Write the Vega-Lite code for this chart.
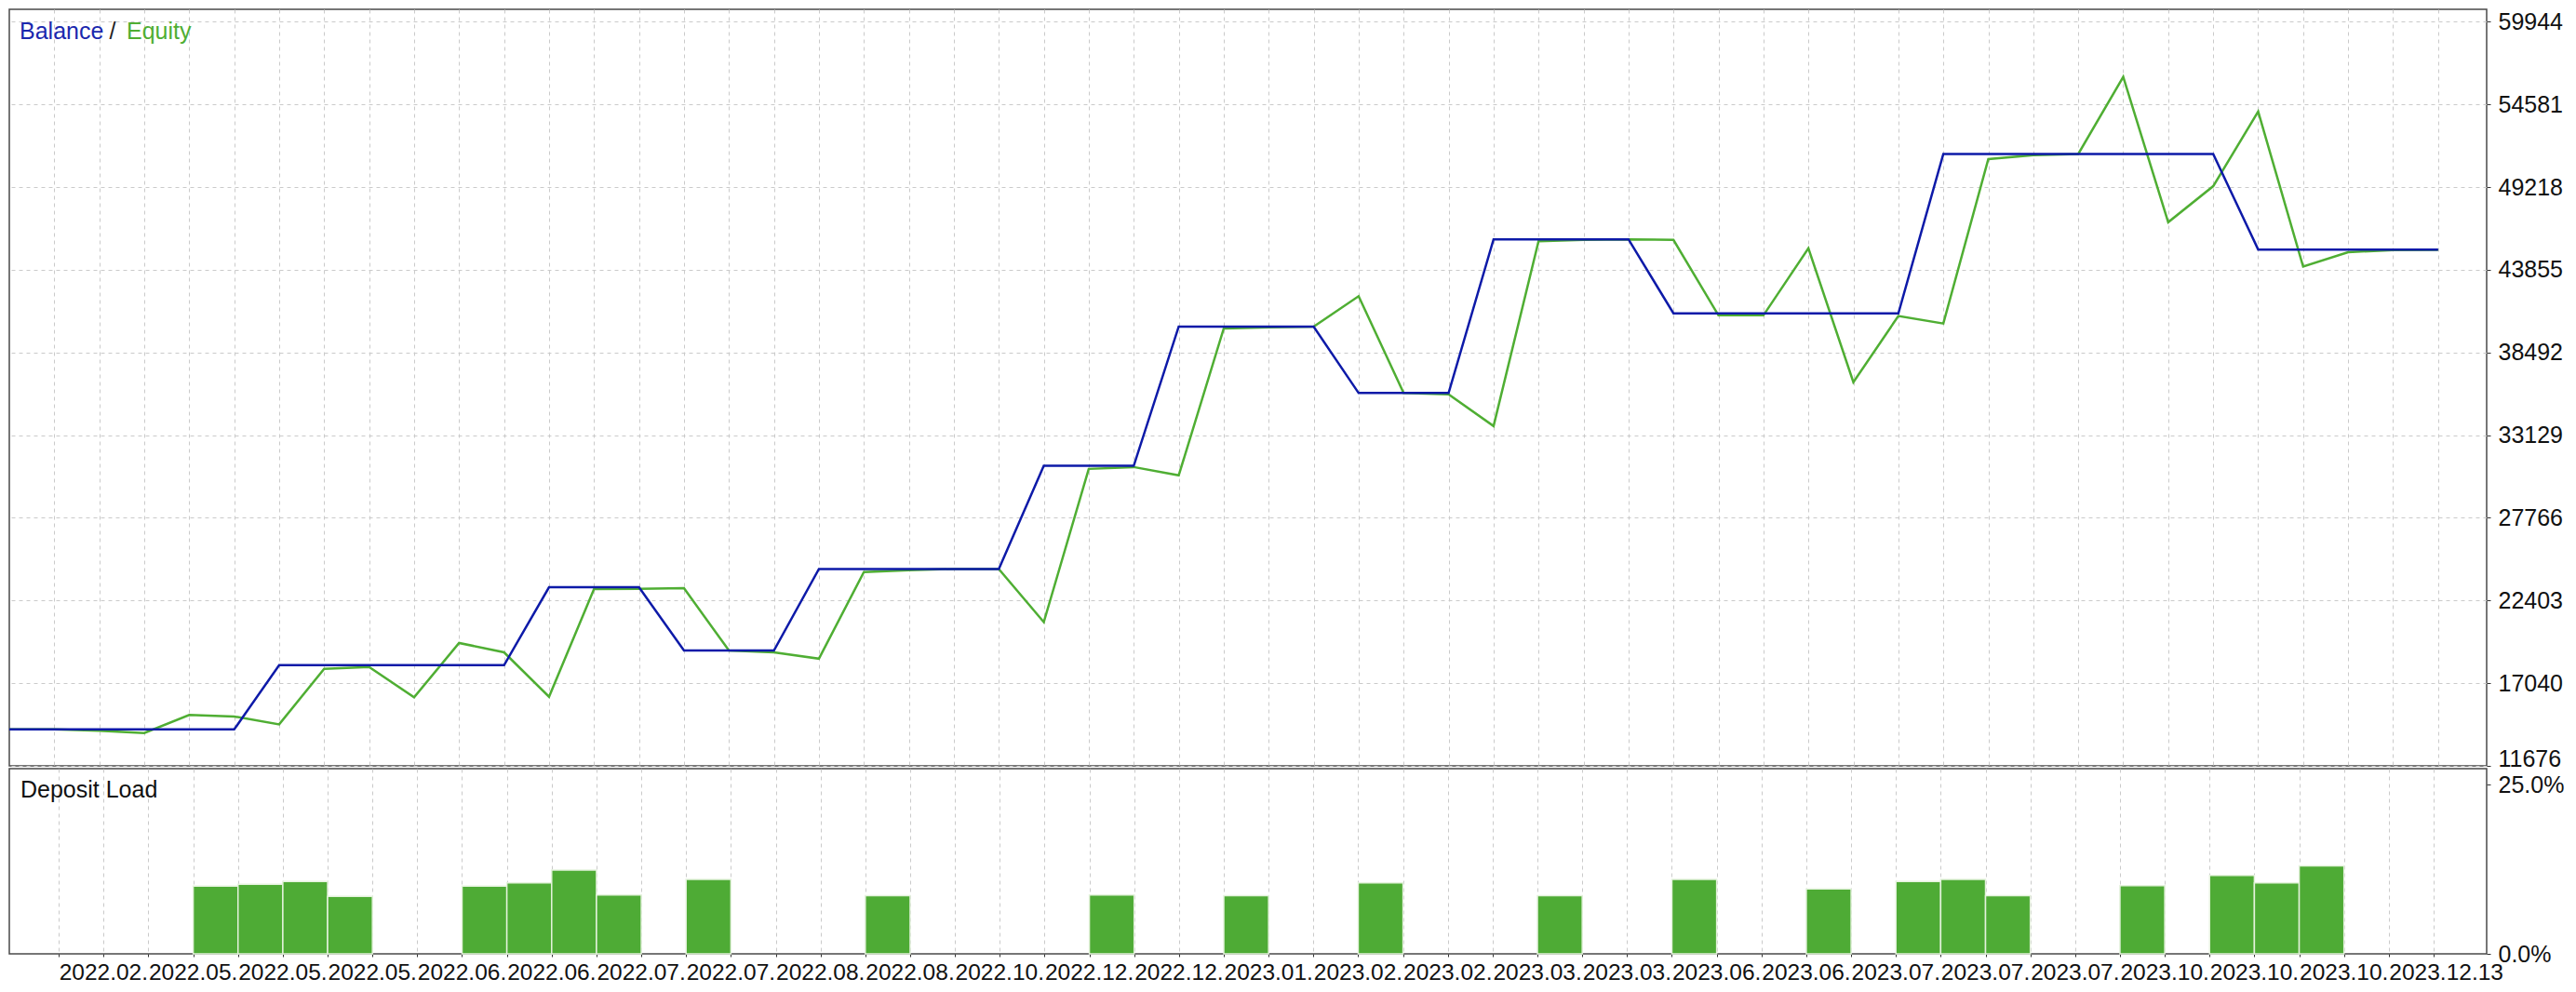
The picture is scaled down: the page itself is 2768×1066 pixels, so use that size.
{
  "$schema": "https://vega.github.io/schema/vega-lite/v6.json",
  "background": "white",
  "padding": {"left": 4, "top": 9, "right": 0, "bottom": 0},
  "bounds": "flush",
  "spacing": 3,
  "config": {
    "font": "Liberation Sans",
    "view": {"stroke": "#4a4a4a", "strokeWidth": 1.5},
    "axis": {
      "labelFont": "Liberation Sans",
      "labelFontSize": 25,
      "labelColor": "#111111",
      "gridColor": "#cacaca",
      "gridDash": [4, 4],
      "gridWidth": 1,
      "tickColor": "#333333",
      "domain": false,
      "title": null,
      "labelOverlap": false,
      "labelBound": false,
      "labelFlush": false
    }
  },
  "datasets": {
    "curve": [
      {"k": -1, "balance": 14040, "equity": 14040},
      {"k": 0, "balance": 14040, "equity": 14040},
      {"k": 1, "balance": 14040, "equity": 13960},
      {"k": 2, "balance": 14040, "equity": 13810},
      {"k": 3, "balance": 14040, "equity": 14980},
      {"k": 4, "balance": 14040, "equity": 14880},
      {"k": 5, "balance": 18210, "equity": 14370},
      {"k": 6, "balance": 18210, "equity": 17970},
      {"k": 7, "balance": 18210, "equity": 18090},
      {"k": 8, "balance": 18210, "equity": 16120},
      {"k": 9, "balance": 18210, "equity": 19650},
      {"k": 10, "balance": 18210, "equity": 19040},
      {"k": 11, "balance": 23260, "equity": 16160},
      {"k": 12, "balance": 23260, "equity": 23140},
      {"k": 13, "balance": 23260, "equity": 23160},
      {"k": 14, "balance": 19160, "equity": 23200},
      {"k": 15, "balance": 19160, "equity": 19160},
      {"k": 16, "balance": 19160, "equity": 19040},
      {"k": 17, "balance": 24450, "equity": 18630},
      {"k": 18, "balance": 24450, "equity": 24250},
      {"k": 19, "balance": 24450, "equity": 24370},
      {"k": 20, "balance": 24450, "equity": 24450},
      {"k": 21, "balance": 24450, "equity": 24450},
      {"k": 22, "balance": 31140, "equity": 21000},
      {"k": 23, "balance": 31140, "equity": 30940},
      {"k": 24, "balance": 31140, "equity": 31060},
      {"k": 25, "balance": 40170, "equity": 30520},
      {"k": 26, "balance": 40170, "equity": 40040},
      {"k": 27, "balance": 40170, "equity": 40120},
      {"k": 28, "balance": 40170, "equity": 40170},
      {"k": 29, "balance": 35860, "equity": 42140},
      {"k": 30, "balance": 35860, "equity": 35860},
      {"k": 31, "balance": 35860, "equity": 35780},
      {"k": 32, "balance": 45830, "equity": 33720},
      {"k": 33, "balance": 45830, "equity": 45710},
      {"k": 34, "balance": 45830, "equity": 45790},
      {"k": 35, "balance": 45830, "equity": 45830},
      {"k": 36, "balance": 41030, "equity": 45790},
      {"k": 37, "balance": 41030, "equity": 40900},
      {"k": 38, "balance": 41030, "equity": 40900},
      {"k": 39, "balance": 41030, "equity": 45250},
      {"k": 40, "balance": 41030, "equity": 36560},
      {"k": 41, "balance": 41030, "equity": 40860},
      {"k": 42, "balance": 51370, "equity": 40370},
      {"k": 43, "balance": 51370, "equity": 51040},
      {"k": 44, "balance": 51370, "equity": 51290},
      {"k": 45, "balance": 51370, "equity": 51370},
      {"k": 46, "balance": 51370, "equity": 56370},
      {"k": 47, "balance": 51370, "equity": 46940},
      {"k": 48, "balance": 51370, "equity": 49280},
      {"k": 49, "balance": 45170, "equity": 54120},
      {"k": 50, "balance": 45170, "equity": 44060},
      {"k": 51, "balance": 45170, "equity": 45000},
      {"k": 52, "balance": 45170, "equity": 45130},
      {"k": 53, "balance": 45170, "equity": 45150}
    ],
    "load": [
      {"from": 3, "to": 4, "load": 10.0},
      {"from": 4, "to": 5, "load": 10.3},
      {"from": 5, "to": 6, "load": 10.7},
      {"from": 6, "to": 7, "load": 8.5},
      {"from": 9, "to": 10, "load": 10.0},
      {"from": 10, "to": 11, "load": 10.5},
      {"from": 11, "to": 12, "load": 12.4},
      {"from": 12, "to": 13, "load": 8.7},
      {"from": 14, "to": 15, "load": 11.0},
      {"from": 18, "to": 19, "load": 8.6},
      {"from": 23, "to": 24, "load": 8.7},
      {"from": 26, "to": 27, "load": 8.6},
      {"from": 29, "to": 30, "load": 10.5},
      {"from": 33, "to": 34, "load": 8.6},
      {"from": 36, "to": 37, "load": 11.0},
      {"from": 39, "to": 40, "load": 9.6},
      {"from": 41, "to": 42, "load": 10.7},
      {"from": 42, "to": 43, "load": 11.0},
      {"from": 43, "to": 44, "load": 8.6},
      {"from": 46, "to": 47, "load": 10.1},
      {"from": 48, "to": 49, "load": 11.6},
      {"from": 49, "to": 50, "load": 10.5},
      {"from": 50, "to": 51, "load": 13.0}
    ]
  },
  "vconcat": [
    {
      "width": 2662,
      "height": 813,
      "data": {"name": "curve"},
      "layer": [
        {
          "mark": {"type": "line", "strokeWidth": 2.5},
          "encoding": {
            "x": {
              "field": "k", "type": "quantitative",
              "scale": {"domain": [-1, 54.08], "nice": false, "zero": false},
              "axis": {"values": [0,1,2,3,4,5,6,7,8,9,10,11,12,13,14,15,16,17,18,19,20,21,22,23,24,25,26,27,28,29,30,31,32,33,34,35,36,37,38,39,40,41,42,43,44,45,46,47,48,49,50,51,52,53], "labels": false, "ticks": false, "domain": false, "grid": true}
            },
            "y": {
              "field": "equity", "type": "quantitative",
              "scale": {"domain": [11676, 60752], "nice": false, "zero": false},
              "axis": {
                "orient": "right",
                "values": [11676, 17040, 22403, 27766, 33129, 38492, 43855, 49218, 54581, 59944],
                "format": "d",
                "tickSize": 4,
                "labelPadding": 8,
                "grid": true,
                "labelBaseline": {"condition": {"test": "datum.value === 11676", "value": "alphabetic"}, "value": "middle"}
              }
            },
            "color": {
              "datum": "Equity", "type": "nominal",
              "scale": {"domain": ["Balance", "/", "Equity"], "range": ["#0d1aa8", "#222222", "#4fae33"]},
              "legend": {
                "orient": "top-left",
                "direction": "horizontal",
                "gridAlign": "none",
                "offset": 11,
                "padding": 0,
                "title": null,
                "symbolType": "circle",
                "symbolSize": 0,
                "symbolOpacity": 0,
                "symbolStrokeWidth": 0,
                "labelOffset": -25,
                "columnPadding": 5.5,
                "labelFont": "Liberation Sans",
                "labelFontSize": 25,
                "labelColor": {"expr": "datum.label === 'Balance' ? '#1a28ae' : datum.label === 'Equity' ? '#4fae33' : '#222222'"}
              }
            }
          }
        },
        {
          "mark": {"type": "line", "strokeWidth": 2.5},
          "encoding": {
            "x": {"field": "k", "type": "quantitative"},
            "y": {"field": "balance", "type": "quantitative"},
            "color": {"datum": "Balance", "type": "nominal"}
          }
        }
      ]
    },
    {
      "width": 2662,
      "height": 199,
      "data": {"name": "load"},
      "title": {
        "text": "Deposit Load",
        "anchor": "start",
        "frame": "group",
        "orient": "top",
        "offset": -32,
        "dx": 12,
        "dy": 24,
        "baseline": "alphabetic",
        "font": "Liberation Sans",
        "fontSize": 25,
        "fontWeight": "normal",
        "color": "#111111"
      },
      "mark": {"type": "bar", "orient": "vertical", "color": "#4eab35", "stroke": "#e4f2dc", "strokeWidth": 1.5},
      "encoding": {
        "x": {
          "field": "from", "type": "quantitative",
          "scale": {"domain": [-1, 54.08], "nice": false, "zero": false},
          "axis": {
            "values": [0,1,2,3,4,5,6,7,8,9,10,11,12,13,14,15,16,17,18,19,20,21,22,23,24,25,26,27,28,29,30,31,32,33,34,35,36,37,38,39,40,41,42,43,44,45,46,47,48,49,50,51,52,53],
            "labelExpr": "datum.value % 2 === 0 ? ['2022.02.','2022.05.','2022.05.','2022.05.','2022.06.','2022.06.','2022.07.','2022.07.','2022.08.','2022.08.','2022.10.','2022.12.','2022.12.','2023.01.','2023.02.','2023.02.','2023.03.','2023.03.','2023.06.','2023.06.','2023.07.','2023.07.','2023.07.','2023.10.','2023.10.','2023.10.','2023.12.13'][datum.value / 2] : ''",
            "labelAlign": "left",
            "labelBaseline": "top",
            "labelFontSize": 24.5,
            "labelPadding": 5,
            "tickSize": 3,
            "grid": true
          }
        },
        "x2": {"field": "to"},
        "y": {
          "field": "load", "type": "quantitative",
          "scale": {"domain": [0, 27.4], "nice": false},
          "axis": {"orient": "right", "values": [0, 25], "labelExpr": "format(datum.value, '.1f') + '%'", "tickSize": 4, "labelPadding": 8, "grid": false}
        },
        "y2": {"datum": 0}
      }
    }
  ]
}
